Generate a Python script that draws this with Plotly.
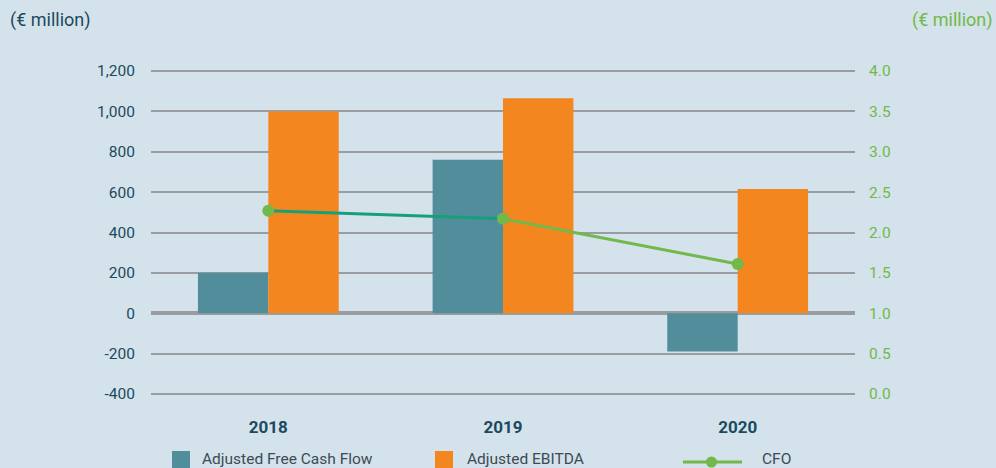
import plotly.graph_objects as go

# Data
years = ["2018", "2019", "2020"]
free_cash_flow = [200, 760, -190]      # € million, left axis
ebitda = [1000, 1065, 615]             # € million, left axis
cfo = [2.27, 2.17, 1.61]               # € million, right axis

left_ticks = [-400, -200, 0, 200, 400, 600, 800, 1000, 1200]
left_labels = ["-400", "-200", "0", "200", "400", "600", "800", "1,000", "1,200"]
right_ticks = [0.0, 0.5, 1.0, 1.5, 2.0, 2.5, 3.0, 3.5, 4.0]
right_labels = ["0.0", "0.5", "1.0", "1.5", "2.0", "2.5", "3.0", "3.5", "4.0"]

BG = "#D4E2EB"
TEAL = "#528D9B"
ORANGE = "#F48620"
GREEN = "#72B84A"
DEEP_GREEN = "#14A079"
DARK = "#1B4A5E"
GRID = "#9A9DA0"
FONT = "Roboto, 'Open Sans', sans-serif"

W, H = 996, 468
ML, MR, MT, MB = 151, 141, 67, 70

fig = go.Figure()

fig.add_trace(go.Bar(x=years, y=free_cash_flow, name="Adjusted Free Cash Flow",
                     marker=dict(color=TEAL, line=dict(width=0)), showlegend=False))
fig.add_trace(go.Bar(x=years, y=ebitda, name="Adjusted EBITDA",
                     marker=dict(color=ORANGE, line=dict(width=0)), showlegend=False))

# CFO line: first segment deeper green, second lighter green
fig.add_trace(go.Scatter(x=years[:2], y=cfo[:2], yaxis="y2", mode="lines",
                         line=dict(color=DEEP_GREEN, width=3), showlegend=False,
                         hoverinfo="skip"))
fig.add_trace(go.Scatter(x=years[1:], y=cfo[1:], yaxis="y2", mode="lines",
                         line=dict(color=GREEN, width=3), showlegend=False,
                         hoverinfo="skip"))
fig.add_trace(go.Scatter(x=years, y=cfo, yaxis="y2", mode="markers", name="CFO",
                         marker=dict(color=GREEN, size=12), showlegend=False))


def px_x(p):
    return (p - ML) / (W - ML - MR)


def px_y(p):
    return (H - MB - p) / (H - MT - MB)


shapes = []
annotations = []

# Legend drawn as shapes + labels along the bottom edge
LEG_Y = 459
legend_items = [
    ("box", TEAL, 172, 190, "Adjusted Free Cash Flow", 200),
    ("box", ORANGE, 435, 453, "Adjusted EBITDA", 465),
    ("line", GREEN, 683, 742, "CFO", 760),
]
for kind, col, x0, x1, label, tx in legend_items:
    if kind == "box":
        shapes.append(dict(type="rect", xref="paper", yref="paper",
                           x0=px_x(x0), x1=px_x(x1), y0=px_y(470), y1=px_y(451),
                           fillcolor=col, line=dict(width=0)))
    else:
        shapes.append(dict(type="line", xref="paper", yref="paper",
                           x0=px_x(x0), x1=px_x(x1), y0=px_y(462), y1=px_y(462),
                           line=dict(color=col, width=3)))
        shapes.append(dict(type="circle", xref="paper", yref="paper",
                           x0=px_x(706), x1=px_x(717), y0=px_y(456.5), y1=px_y(467.5),
                           fillcolor=col, line=dict(width=0)))
    annotations.append(dict(text=label, xref="paper", yref="paper",
                            x=px_x(tx), y=px_y(LEG_Y), xanchor="left", yanchor="middle",
                            showarrow=False,
                            font=dict(family=FONT, size=15.5, color="#3C4B55")))

annotations.append(dict(text="(€ million)", xref="paper", yref="paper",
                        x=px_x(8), y=px_y(20), xanchor="left", yanchor="middle",
                        showarrow=False,
                        font=dict(family=FONT, size=18, color=DARK)))
annotations.append(dict(text="(€ million)", xref="paper", yref="paper",
                        x=px_x(995), y=px_y(20), xanchor="right", yanchor="middle",
                        showarrow=False,
                        font=dict(family=FONT, size=18, color=GREEN)))

fig.update_layout(
    width=W, height=H,
    margin=dict(l=ML, r=MR, t=MT, b=MB),
    paper_bgcolor=BG, plot_bgcolor=BG,
    barmode="group", bargap=0.4, bargroupgap=0,
    font=dict(family=FONT),
    shapes=shapes, annotations=annotations,
    xaxis=dict(showgrid=False, showline=False, ticks="outside", ticklen=14,
               tickcolor="rgba(0,0,0,0)",
               tickfont=dict(family=FONT, size=17, color=DARK, weight="bold"),
               range=[-0.5, 2.5], fixedrange=True),
    yaxis=dict(range=[-420, 1220], tickvals=left_ticks, ticktext=left_labels,
               showgrid=True, gridcolor=GRID, gridwidth=1.5,
               zeroline=True, zerolinecolor=GRID, zerolinewidth=4,
               showline=False, ticks="outside", ticklen=12,
               tickcolor="rgba(0,0,0,0)",
               tickfont=dict(family=FONT, size=15.5, color=DARK), fixedrange=True),
    yaxis2=dict(range=[-0.05, 4.05], tickvals=right_ticks, ticktext=right_labels,
                overlaying="y", side="right", showgrid=False, zeroline=False,
                showline=False, ticks="outside", ticklen=10,
                tickcolor="rgba(0,0,0,0)",
                tickfont=dict(family=FONT, size=15.5, color=GREEN), fixedrange=True),
)

fig.write_html("out.html", config={"displayModeBar": False})
